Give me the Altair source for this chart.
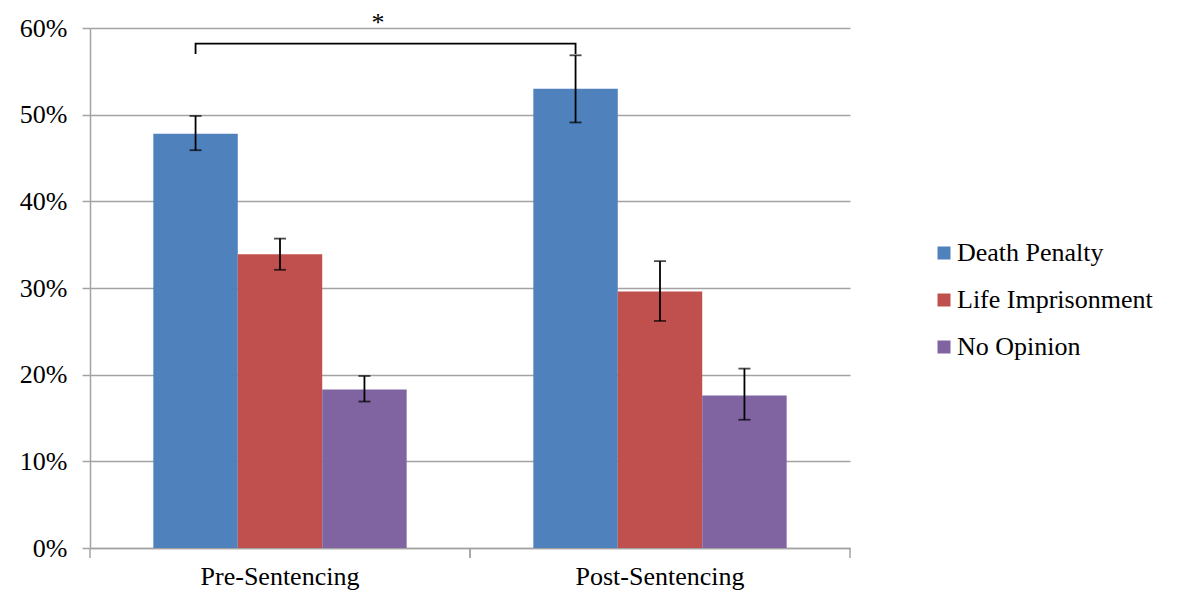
import altair as alt
import pandas as pd

phases = ["Pre-Sentencing", "Post-Sentencing"]
responses = ["Death Penalty", "Life Imprisonment", "No Opinion"]
colors = ["#4F81BD", "#C0504D", "#8064A2"]

pre_values = [47.8, 33.9, 18.3]
post_values = [53.0, 29.6, 17.6]
pre_low = [45.9, 32.1, 16.9]
pre_high = [49.85, 35.7, 19.85]
post_low = [49.1, 26.2, 14.8]
post_high = [56.85, 33.1, 20.7]

y_ticks = [0, 10, 20, 30, 40, 50, 60]
bracket_top = 58.2
bracket_end = 57.0
star_level = 59.7

W, H = 760, 520
FONT = "Liberation Serif"
GRID = "#a3a3a3"

rows = []
for ph, vals, lo, hi in [(phases[0], pre_values, pre_low, pre_high),
                         (phases[1], post_values, post_low, post_high)]:
    for r, v, l, h in zip(responses, vals, lo, hi):
        rows.append({"phase": ph, "response": r, "value": v, "low": l, "high": h})
df = pd.DataFrame(rows)

caps = pd.concat([
    df[["phase", "response", "low"]].rename(columns={"low": "y"}),
    df[["phase", "response", "high"]].rename(columns={"high": "y"}),
])

bracket = pd.DataFrame({
    "phase": [phases[0], phases[0], phases[1], phases[1]],
    "response": [responses[0]] * 4,
    "y": [bracket_end, bracket_top, bracket_top, bracket_end],
    "order": [0, 1, 2, 3],
})

edges = pd.DataFrame({"phase": phases})

xscale = alt.Scale(domain=phases, paddingInner=0, paddingOuter=0)
xoff_scale = alt.Scale(domain=responses, paddingInner=0, paddingOuter=0.75)
yscale = alt.Scale(domain=[0, 60], nice=False)

x_enc = alt.X("phase:N", sort=phases, scale=xscale,
              axis=alt.Axis(title=None, labelAngle=0, ticks=False, grid=False,
                            domainColor=GRID, domainWidth=1.5,
                            labelFont=FONT, labelFontSize=26, labelColor="black",
                            labelPadding=15))
xo_enc = alt.XOffset("response:N", sort=responses, scale=xoff_scale)
y_axis = alt.Axis(title=None, values=y_ticks, labelExpr="datum.value + '%'",
                  grid=True, gridColor=GRID, gridWidth=1.5,
                  domainColor=GRID, domainWidth=1.5,
                  tickColor=GRID, tickWidth=1.5, tickSize=8,
                  labelFont=FONT, labelFontSize=26, labelColor="black",
                  labelPadding=15)

bars = alt.Chart(df).mark_bar().encode(
    x=x_enc,
    xOffset=xo_enc,
    y=alt.Y("value:Q", scale=yscale, axis=y_axis),
    color=alt.Color("response:N", sort=responses,
                    scale=alt.Scale(domain=responses, range=colors),
                    legend=alt.Legend(title=None, orient="none", legendX=841, legendY=212,
                                      symbolType="square", symbolSize=169,
                                      symbolStrokeWidth=0, labelFont=FONT,
                                      labelFontSize=26, labelColor="black",
                                      labelOffset=0, rowPadding=21, labelLimit=0)),
)

err = alt.Chart(df).mark_rule(color="black", strokeWidth=1.8).encode(
    x=alt.X("phase:N", sort=phases, scale=xscale),
    xOffset=xo_enc,
    y=alt.Y("low:Q", scale=yscale),
    y2="high:Q",
)

cap_marks = alt.Chart(caps).mark_tick(color="black", thickness=1.8, size=12,
                                      orient="horizontal").encode(
    x=alt.X("phase:N", sort=phases, scale=xscale),
    xOffset=xo_enc,
    y=alt.Y("y:Q", scale=yscale),
)

bracket_line = alt.Chart(bracket).mark_line(color="black", strokeWidth=1.8).encode(
    x=alt.X("phase:N", sort=phases, scale=xscale),
    xOffset=xo_enc,
    y=alt.Y("y:Q", scale=yscale),
    order="order:Q",
)

star = alt.Chart(pd.DataFrame({"t": ["*"]})).mark_text(
    font=FONT, fontSize=26, color="black", baseline="alphabetic"
).encode(
    text="t:N",
    x=alt.value(288),
    y=alt.datum(star_level),
)

tick_start = alt.Chart(edges).mark_rule(color=GRID, strokeWidth=1.5).encode(
    x=alt.X("phase:N", sort=phases, scale=xscale, bandPosition=0),
    y=alt.value(H), y2=alt.value(H + 10),
)
tick_end = alt.Chart(edges).mark_rule(color=GRID, strokeWidth=1.5).encode(
    x=alt.X("phase:N", sort=phases, scale=xscale, bandPosition=1),
    y=alt.value(H), y2=alt.value(H + 10),
)

chart = alt.layer(bars, err, cap_marks, bracket_line, star, tick_start, tick_end).properties(
    width=W, height=H,
    autosize=alt.AutoSizeParams(type="none"),
    padding={"left": 82, "top": 20, "right": 323, "bottom": 43},
).configure_view(stroke=None)

chart.save("out.html", embed_options={"renderer": "svg", "actions": False})
